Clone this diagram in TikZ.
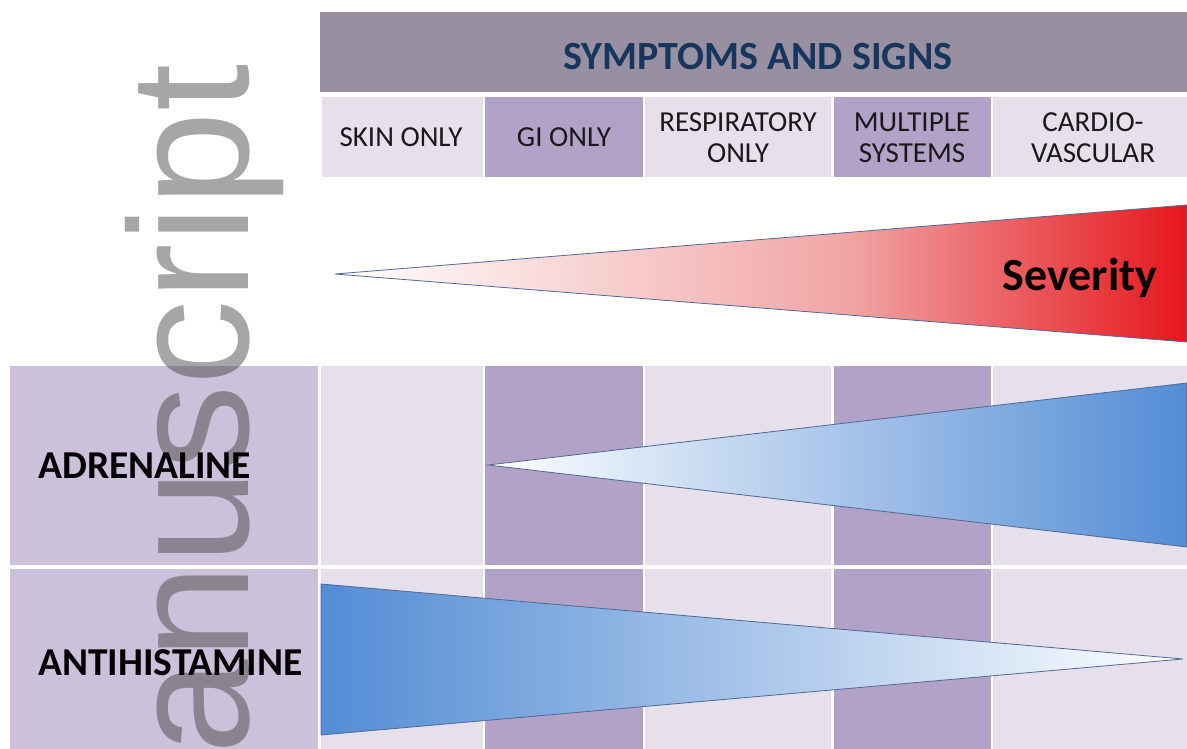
\documentclass[tikz,border=0pt]{standalone}
\usepackage{fontspec}
\setmainfont{Carlito}
\newfontfamily\wmfont{Liberation Sans}
\definecolor{hdrbg}{RGB}{152,143,161}
\definecolor{hdrtext}{RGB}{23,54,93}
\definecolor{lightcol}{RGB}{230,224,236}
\definecolor{darkcol}{RGB}{179,162,199}
\definecolor{leftcol}{RGB}{204,193,218}
\definecolor{labtext}{RGB}{25,25,25}
\definecolor{pinkmid}{RGB}{241,165,165}
\definecolor{redend}{RGB}{230,22,28}
\definecolor{blueend}{RGB}{83,140,213}
\definecolor{triline}{RGB}{80,105,150}
\definecolor{wmgray}{RGB}{58,58,58}
\pgfdeclarehorizontalshading{redramp}{100bp}{color(0bp)=(white); color(25bp)=(white); color(55bp)=(pinkmid); color(75bp)=(redend); color(100bp)=(redend)}
\pgfdeclarehorizontalshading{blueup}{100bp}{color(0bp)=(white); color(25bp)=(white); color(75bp)=(blueend); color(100bp)=(blueend)}
\pgfdeclarehorizontalshading{bluedown}{100bp}{color(0bp)=(blueend); color(25bp)=(blueend); color(75bp)=(white); color(100bp)=(white)}
\begin{document}
\begin{tikzpicture}[x=1pt,y=-1pt,
  collab/.style={text=labtext, align=center, font=\fontsize{29}{31}\selectfont, inner sep=0pt},
  rowlab/.style={text=black, anchor=base west, font=\bfseries\fontsize{39.5}{39.5}\selectfont, inner sep=0pt},
  tri/.style={draw=triline, line width=0.8pt, line join=miter},
  trishadow/.style={fill=black, opacity=0.12}]
\useasboundingbox (0,0) rectangle (1187,749);
\fill[white] (0,0) rectangle (1187,749);
% header
\fill[hdrbg] (320,12) rectangle (1187,92);
\node[text=hdrtext, font=\bfseries\fontsize{40}{40}\selectfont, inner sep=0pt] (hdr) at (758,57) {SYMPTOMS AND SIGNS};
% column heads
\fill[lightcol] (322,97) rectangle (483,177);
\fill[darkcol] (485,97) rectangle (643,177);
\fill[lightcol] (645,97) rectangle (831,177);
\fill[darkcol] (834,97) rectangle (991,177);
\fill[lightcol] (993,97) rectangle (1187,177);
\node[collab] (skin) at (401,137) {SKIN ONLY};
\node[collab] (gi) at (564,137) {GI ONLY};
\node[collab] (resp) at (738,138) {RESPIRATORY\\ONLY};
\node[collab] (multi) at (912,138) {MULTIPLE\\SYSTEMS};
\node[collab] (cardio) at (1093,138) {CARDIO-\\VASCULAR};
% lower grid
\foreach \ya/\yb in {366/565, 569/749}{
  \fill[leftcol] (10,\ya) rectangle (318,\yb);
  \fill[lightcol] (321,\ya) rectangle (483,\yb);
  \fill[darkcol] (485,\ya) rectangle (643,\yb);
  \fill[lightcol] (645,\ya) rectangle (831,\yb);
  \fill[darkcol] (834,\ya) rectangle (991,\yb);
  \fill[lightcol] (993,\ya) rectangle (1187,\yb);
}
% severity triangle
\coordinate (s1) at (335,274);
\coordinate (s2) at (1187,205);
\coordinate (s3) at (1187,342);
\fill[trishadow, xshift=1.5pt, yshift=-2.5pt] (s1) -- (s2) -- (s3) -- cycle;
\shade[shading=redramp, tri] (s1) -- (s2) -- (s3) -- cycle;
\node[text=black, anchor=base, font=\bfseries\fontsize{46}{46}\selectfont, inner sep=0pt] (sev) at (1080,290) {Severity};
% adrenaline triangle
\coordinate (a1) at (488,465);
\coordinate (a2) at (1187,383);
\coordinate (a3) at (1187,547);
\fill[trishadow, xshift=1.5pt, yshift=-2.5pt] (a1) -- (a2) -- (a3) -- cycle;
\shade[shading=blueup, tri] (a1) -- (a2) -- (a3) -- cycle;
% antihistamine triangle
\coordinate (h1) at (321,584);
\coordinate (h2) at (1183,659);
\coordinate (h3) at (321,735);
\fill[trishadow, xshift=1.5pt, yshift=-2.5pt] (h1) -- (h2) -- (h3) -- cycle;
\shade[shading=bluedown, tri] (h1) -- (h2) -- (h3) -- cycle;
% watermark
\begin{scope}
\clip (0,0) rectangle (1187,749);
\node[rotate=90, anchor=base east, inner sep=0pt, text=wmgray, text opacity=0.45, font=\wmfont\fontsize{170}{170}\selectfont] (wm) at (248,64) {manuscript};
\end{scope}
% row labels
\node[rowlab] (adr) at (38,478) {ADRENALINE};
\node[rowlab] (anti) at (38,675) {ANTIHISTAMINE};
\end{tikzpicture}
\end{document}
